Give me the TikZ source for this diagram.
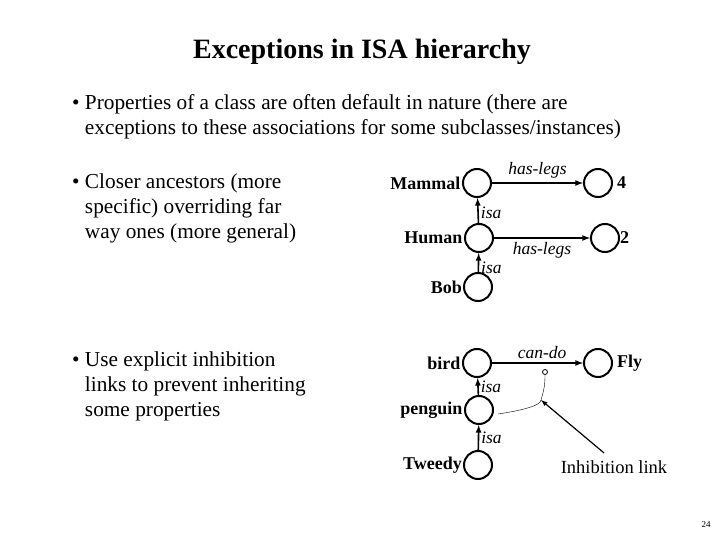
\documentclass[tikz,border=0pt]{standalone}
\usepackage{fontspec}
\setmainfont{Liberation Serif}
\begin{document}
\begin{tikzpicture}[x=1pt,y=-1pt,
  nd/.style={circle,draw,line width=2pt,minimum size=28pt,inner sep=0pt},
  lab/.style={font=\bfseries\fontsize{18}{20}\selectfont,inner sep=1.5pt},
  rel/.style={font=\itshape\fontsize{17.5}{19}\selectfont,inner sep=2pt},
  txt/.style={font=\fontsize{21.3}{25}\selectfont,align=left,anchor=north west,inner sep=0pt},
  arr/.style={-latex,line width=1.6pt}]
\useasboundingbox (0,0) rectangle (720,540);
\node[font=\bfseries\fontsize{28}{32}\selectfont] (title) at (362,52) {Exceptions in ISA hierarchy};
\node[txt] (b1) at (72,94) {\textbullet\ Properties of a class are often default in nature (there are\\\phantom{\textbullet\ }exceptions to these associations for some subclasses/instances)};
\node[txt] (b2) at (72,174) {\textbullet\ Closer ancestors (more\\\phantom{\textbullet\ }specific) overriding far\\\phantom{\textbullet\ }way ones (more general)};
\node[txt] (b3) at (72,352) {\textbullet\ Use explicit inhibition\\\phantom{\textbullet\ }links to prevent inheriting\\\phantom{\textbullet\ }some properties};
\node[nd] (mammal) at (477,183) {};
\node[nd] (four) at (598,183) {};
\node[nd] (human) at (479,238) {};
\node[nd] (two) at (605,238) {};
\node[nd] (bob) at (478,287) {};
\node[lab,anchor=east] (lm) at (mammal.west) {Mammal};
\node[lab,anchor=west,inner sep=4pt] (l4) at (four.east) {4};
\node[lab,anchor=east] (lh) at (human.west) {Human};
\node[lab,anchor=west,inner sep=0pt] (l2) at (two.east) {2};
\node[lab,anchor=east,inner sep=1pt] (lb) at (bob.west) {Bob};
\draw[arr] (mammal) -- node[rel,above,pos=0.5,yshift=2pt] (hl1) {has-legs} (four);
\draw[arr] (human) -- node[rel,below,pos=0.5,yshift=-2pt] (hl2) {has-legs} (two);
\draw[arr] (human) -- node[rel,right,pos=0.4] (i1) {isa} (mammal);
\draw[arr] (bob) -- node[rel,right,pos=0.2] (i2) {isa} (human);
\node[nd] (bird) at (477,363) {};
\node[nd] (fly) at (598,363) {};
\node[nd] (penguin) at (479,410) {};
\node[nd] (tweedy) at (478,465) {};
\node[lab,anchor=east] (lbird) at (bird.west) {bird};
\node[lab,anchor=west,inner sep=4pt] (lfly) at (fly.east) {Fly};
\node[lab,anchor=east] (lp) at (penguin.west) {penguin};
\node[lab,anchor=east,inner sep=1pt] (lt) at (tweedy.west) {Tweedy};
\draw[arr] (bird) -- node[rel,above,pos=0.55,yshift=2pt] (cd) {can-do} (fly);
\draw[arr] (penguin) -- node[rel,right] (i3) {isa} (bird);
\draw[arr] (tweedy) -- node[rel,right] (i4) {isa} (penguin);
\node[circle,draw,thick,fill=white,minimum size=5pt,inner sep=0pt] (inh) at (545,372) {};
\coordinate (bend) at (541,400);
\draw[thin] (penguin.east) ++(4,4) coordinate (pe) .. controls (525,410) and (541,405) .. (bend) .. controls (544,390) and (545,385) .. (inh.south);
\node[font=\fontsize{18.5}{20}\selectfont] (il) at (614,467) {Inhibition link};
\draw[-latex,line width=1.2pt] (il.north) ++(-10,-4) -- (bend);
\node[font=\fontsize{9}{10}\selectfont] (pg) at (706,525) {24};
\end{tikzpicture}
\end{document}
